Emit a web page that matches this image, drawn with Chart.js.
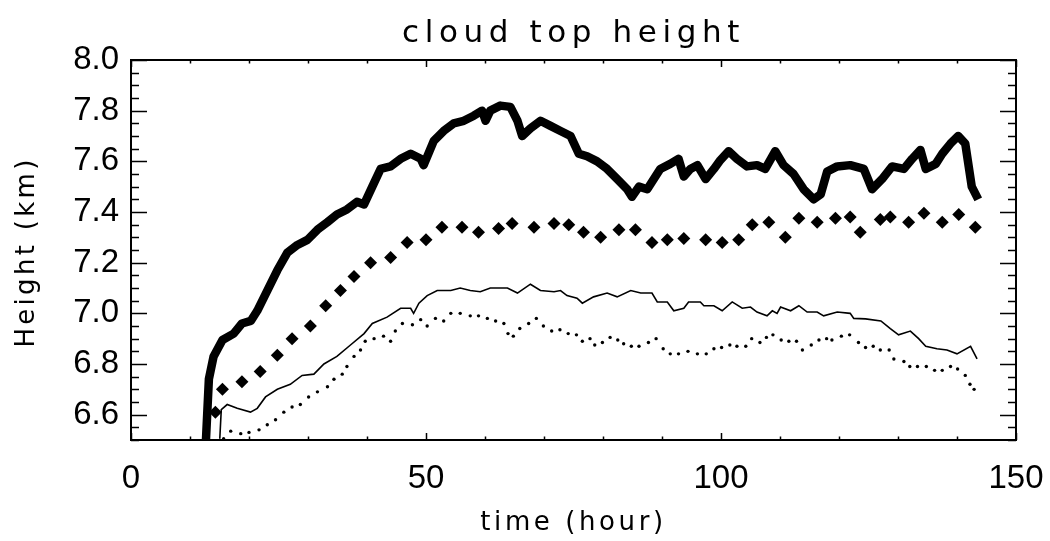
<!DOCTYPE html>
<html>
<head>
<meta charset="utf-8">
<title>cloud top height</title>
<script src="https://cdn.jsdelivr.net/npm/chart.js@4.4.1/dist/chart.umd.min.js"></script>
<style>
  html, body { margin: 0; padding: 0; background: #fff; }
  #wrap { width: 1050px; height: 541px; }
</style>
</head>
<body>
<div id="wrap"><canvas id="cth" width="1050" height="541"></canvas></div>
<script>
// values: time in hours, height in km
const thickTime = [12.6, 13.2, 14.0, 15.5, 17.4, 18.8, 20.3, 21.4, 23.1, 24.8,
  26.5, 28.2, 29.9, 31.6, 33.3, 34.9, 36.6, 38.3, 39.5, 40.9,
  42.3, 44.0, 45.7, 47.4, 49.1, 49.6, 51.3, 53.0, 54.7, 56.4,
  58.1, 59.5, 60.1, 60.9, 62.6, 64.3, 65.5, 66.3, 67.7, 69.4,
  71.1, 72.8, 74.5, 75.9, 77.3, 79.0, 80.7, 82.4, 84.1, 84.9,
  86.1, 87.5, 89.7, 91.4, 92.8, 93.7, 94.8, 96.0, 97.4, 98.8,
  99.9, 101.3, 102.7, 104.4, 106.1, 107.5, 109.2, 110.6, 112.3, 114.0,
  115.7, 116.9, 118.0, 119.7, 121.9, 124.2, 125.6, 127.3, 129.0, 131.0,
  132.4, 133.8, 134.7, 136.4, 137.5, 138.9, 140.2, 141.4, 142.5, 143.6];
const thickHeight = [6.45, 6.74, 6.83, 6.895, 6.92, 6.96, 6.97, 7.01, 7.09, 7.17,
  7.24, 7.27, 7.29, 7.33, 7.36, 7.39, 7.41, 7.44, 7.43, 7.50,
  7.57, 7.58, 7.61, 7.63, 7.61, 7.585, 7.68, 7.72, 7.75, 7.76,
  7.78, 7.80, 7.76, 7.80, 7.82, 7.815, 7.76, 7.70, 7.73, 7.76,
  7.74, 7.72, 7.70, 7.63, 7.62, 7.60, 7.57, 7.53, 7.49, 7.46,
  7.50, 7.49, 7.57, 7.59, 7.61, 7.54, 7.57, 7.585, 7.53, 7.57,
  7.605, 7.64, 7.61, 7.58, 7.585, 7.57, 7.64, 7.585, 7.55, 7.49,
  7.45, 7.47, 7.56, 7.58, 7.585, 7.57, 7.49, 7.53, 7.58, 7.57,
  7.61, 7.645, 7.57, 7.59, 7.63, 7.67, 7.70, 7.67, 7.50, 7.45];

const dashTime = [14.3, 15.5, 18.8, 21.9, 24.8, 27.3, 30.4, 33.0, 35.5, 37.8,
  40.6, 44.0, 46.8, 50.0, 52.7, 56.1, 58.9, 62.3, 64.6, 68.3,
  71.7, 74.2, 76.7, 79.6, 82.7, 85.5, 88.3, 90.9, 93.7, 97.4,
  100.2, 103.0, 105.3, 108.1, 110.9, 113.2, 116.3, 119.4, 121.9, 123.6,
  127.0, 128.7, 131.8, 134.4, 137.5, 140.3, 143.1];
const dashHeight = [6.61, 6.70, 6.73, 6.77, 6.835, 6.90, 6.95, 7.03, 7.09, 7.145,
  7.20, 7.22, 7.28, 7.29, 7.34, 7.34, 7.32, 7.335, 7.355, 7.34,
  7.355, 7.35, 7.32, 7.30, 7.33, 7.33, 7.28, 7.29, 7.295, 7.29,
  7.28, 7.29, 7.35, 7.36, 7.30, 7.375, 7.36, 7.375, 7.38, 7.32,
  7.37, 7.38, 7.36, 7.395, 7.36, 7.39, 7.34];

const thinTime = [15.05, 15.3, 16.3, 18.0, 20.25, 21.4, 22.8, 24.8, 27.0, 29.0,
  31.0, 32.7, 34.9, 37.2, 39.5, 40.9, 43.4, 45.7, 47.4, 47.9,
  48.8, 50.2, 51.9, 54.2, 55.8, 57.5, 59.2, 60.9, 63.8, 65.5,
  67.7, 69.4, 71.7, 72.8, 73.9, 75.6, 76.5, 78.4, 80.7, 82.4,
  84.7, 86.4, 88.3, 89.2, 90.9, 92.0, 93.7, 94.5, 96.5, 97.1,
  98.8, 100.2, 101.9, 103.6, 105.0, 106.1, 107.8, 108.7, 109.5, 110.1,
  111.8, 113.2, 114.6, 116.3, 117.4, 119.7, 121.9, 122.5, 124.5, 127.1,
  128.7, 130.1, 132.1, 133.5, 134.7, 136.6, 138.3, 140.0, 142.3, 143.4];
const thinHeight = [6.505, 6.62, 6.64, 6.625, 6.61, 6.625, 6.67, 6.70, 6.72, 6.755,
  6.76, 6.80, 6.83, 6.875, 6.92, 6.96, 6.985, 7.02, 7.02, 7.0,
  7.04, 7.07, 7.09, 7.09, 7.10, 7.09, 7.085, 7.10, 7.10, 7.08,
  7.115, 7.09, 7.085, 7.09, 7.07, 7.06, 7.04, 7.065, 7.08, 7.065,
  7.09, 7.08, 7.08, 7.045, 7.045, 7.01, 7.02, 7.045, 7.045, 7.03,
  7.03, 7.01, 7.045, 7.02, 7.025, 7.005, 6.99, 7.01, 7.0, 7.025,
  7.01, 7.03, 7.005, 7.005, 6.99, 7.005, 7.0, 6.98, 6.978, 6.97,
  6.94, 6.915, 6.93, 6.90, 6.87, 6.86, 6.855, 6.84, 6.87, 6.82];

const dotTime = [15.7, 16.9, 18.6, 20.0, 21.7, 23.1, 24.5, 25.9, 27.3, 28.7,
  30.1, 31.6, 33.3, 34.4, 35.8, 36.6, 37.8, 38.9, 39.7, 41.2,
  42.8, 44.0, 44.8, 46.0, 47.7, 49.1, 50.2, 51.6, 53.0, 54.2,
  55.8, 57.5, 58.9, 60.4, 61.8, 63.2, 63.9, 64.8, 65.9, 67.4,
  68.7, 69.9, 71.3, 72.7, 74.1, 75.5, 76.5, 77.8, 78.6, 79.9,
  81.2, 82.5, 83.5, 84.8, 86.1, 87.7, 89.0, 90.2, 91.4, 92.8,
  94.4, 96.0, 97.5, 98.8, 100.1, 101.5, 102.7, 104.2, 105.2, 106.6,
  107.7, 108.8, 110.2, 111.5, 112.8, 113.8, 115.3, 116.6, 117.9, 118.8,
  120.4, 121.8, 123.3, 124.5, 125.8, 127.0, 128.5, 129.3, 131.0, 132.0,
  133.3, 134.8, 136.2, 137.5, 138.9, 140.1, 141.4, 142.2, 142.9];
const dotHeight = [6.505, 6.535, 6.525, 6.53, 6.54, 6.56, 6.58, 6.61, 6.63, 6.64,
  6.67, 6.69, 6.71, 6.74, 6.76, 6.79, 6.83, 6.855, 6.89, 6.90,
  6.91, 6.89, 6.93, 6.96, 6.955, 6.975, 6.95, 6.98, 6.97, 7.0,
  7.0, 6.99, 6.99, 6.98, 6.97, 6.96, 6.92, 6.91, 6.94, 6.96,
  6.98, 6.95, 6.93, 6.935, 6.92, 6.915, 6.89, 6.90, 6.875, 6.885,
  6.905, 6.895, 6.88, 6.87, 6.87, 6.885, 6.90, 6.86, 6.84, 6.84,
  6.85, 6.84, 6.84, 6.86, 6.865, 6.875, 6.87, 6.87, 6.90, 6.885,
  6.905, 6.915, 6.895, 6.89, 6.89, 6.855, 6.875, 6.895, 6.90, 6.895,
  6.91, 6.915, 6.885, 6.865, 6.87, 6.855, 6.855, 6.82, 6.81, 6.79,
  6.79, 6.79, 6.775, 6.775, 6.79, 6.78, 6.755, 6.72, 6.70];

const xTickLabels = [0, 50, 100, 150];
const yTickLabels = [6.6, 6.8, 7.0, 7.2, 7.4, 7.6, 7.8, 8.0];
const xMinorStep = 10;
const yMinorStep = 0.05;

const titleText = "cloud top height";
const xTitleText = "time (hour)";
const yTitleText = "Height (km)";

function pairs(xs, ys) {
  return xs.map((x, i) => ({ x: x, y: ys[i] }));
}

// IDL style box: frame on all four sides, ticks pointing inward
const boxPlugin = {
  id: "idlBox",
  afterDatasetsDraw(chart) {
    const ctx = chart.ctx;
    const { left, right, top, bottom } = chart.chartArea;
    const xs = chart.scales.x;
    const ys = chart.scales.y;
    ctx.save();
    ctx.strokeStyle = "#000";
    ctx.lineWidth = 2;
    ctx.strokeRect(left, top, right - left, bottom - top);

    ctx.lineWidth = 1.5;
    ctx.beginPath();
    for (let v = xs.min; v <= xs.max + 1e-9; v += xMinorStep) {
      const px = Math.round(xs.getPixelForValue(v)) + 0.5;
      const len = xTickLabels.includes(Math.round(v)) ? 7 : 3.5;
      ctx.moveTo(px, bottom);
      ctx.lineTo(px, bottom - len);
      ctx.moveTo(px, top);
      ctx.lineTo(px, top + len);
    }
    for (let v = ys.min; v <= ys.max + 1e-9; v += yMinorStep) {
      const py = Math.round(ys.getPixelForValue(v)) + 0.5;
      const major = yTickLabels.some((t) => Math.abs(t - v) < 1e-6);
      const len = major ? 16 : 8;
      ctx.moveTo(left, py);
      ctx.lineTo(left + len, py);
      ctx.moveTo(right, py);
      ctx.lineTo(right - len, py);
    }
    ctx.stroke();
    ctx.restore();
  },
  afterDraw(chart) {
    const ctx = chart.ctx;
    const { left, right, top, bottom } = chart.chartArea;
    const mid = (left + right) / 2;
    ctx.save();
    ctx.fillStyle = "#000";
    ctx.textAlign = "center";
    ctx.textBaseline = "alphabetic";

    ctx.font = '31px "DejaVu Sans"';
    ctx.letterSpacing = "5.6px";
    ctx.fillText(titleText, mid, 42);

    ctx.font = '26px "DejaVu Sans"';
    ctx.letterSpacing = "3.6px";
    ctx.fillText(xTitleText, mid, 530);

    ctx.translate(34, (top + bottom) / 2 + 2);
    ctx.rotate(-Math.PI / 2);
    ctx.letterSpacing = "3.3px";
    ctx.fillText(yTitleText, 0, 0);
    ctx.restore();
  },
};

const ctx = document.getElementById("cth").getContext("2d");
const cthChart = new Chart(ctx, {
  type: "scatter",
  data: {
    datasets: [
      {
        label: "thick",
        data: pairs(thickTime, thickHeight),
        showLine: true,
        borderColor: "#000",
        borderWidth: 8.5,
        borderJoinStyle: "round",
        pointRadius: 0,
        clip: 0,
      },
      {
        label: "dashed",
        data: pairs(dashTime, dashHeight),
        showLine: false,
        pointStyle: "rectRot",
        pointRadius: 6.5,
        backgroundColor: "#000",
        borderWidth: 0,
        clip: 0,
      },
      {
        label: "thin",
        data: pairs(thinTime, thinHeight),
        showLine: true,
        borderColor: "#000",
        borderWidth: 1.6,
        pointRadius: 0,
        clip: 0,
      },
      {
        label: "dotted",
        data: pairs(dotTime, dotHeight),
        showLine: false,
        pointRadius: 1.7,
        backgroundColor: "#000",
        borderWidth: 0,
        clip: 0,
      },
    ],
  },
  options: {
    responsive: false,
    animation: false,
    events: [],
    layout: {
      padding: { top: 60, right: 34, left: 0, bottom: 0 },
    },
    scales: {
      x: {
        type: "linear",
        min: 0,
        max: 150,
        afterBuildTicks: (scale) => {
          scale.ticks = xTickLabels.map((v) => ({ value: v }));
        },
        afterFit: (scale) => {
          scale.height = 101;
          scale.paddingLeft = 0;
          scale.paddingRight = 0;
        },
        grid: { display: false, drawTicks: false },
        border: { display: false },
        ticks: {
          color: "#000",
          padding: 19,
          maxRotation: 0,
          autoSkip: false,
          font: { family: "Liberation Sans", size: 33 },
        },
      },
      y: {
        type: "linear",
        min: 6.5,
        max: 8.0,
        afterBuildTicks: (scale) => {
          scale.ticks = yTickLabels.map((v) => ({ value: v }));
        },
        afterFit: (scale) => {
          scale.width = 131;
          scale.paddingTop = 0;
          scale.paddingBottom = 0;
        },
        grid: { display: false, drawTicks: false },
        border: { display: false },
        ticks: {
          color: "#000",
          padding: 12,
          autoSkip: false,
          font: { family: "Liberation Sans", size: 33 },
          callback: (v) => Number(v).toFixed(1),
        },
      },
    },
    plugins: {
      legend: { display: false },
      tooltip: { enabled: false },
      title: { display: false },
    },
  },
  plugins: [boxPlugin],
});
</script>
</body>
</html>
